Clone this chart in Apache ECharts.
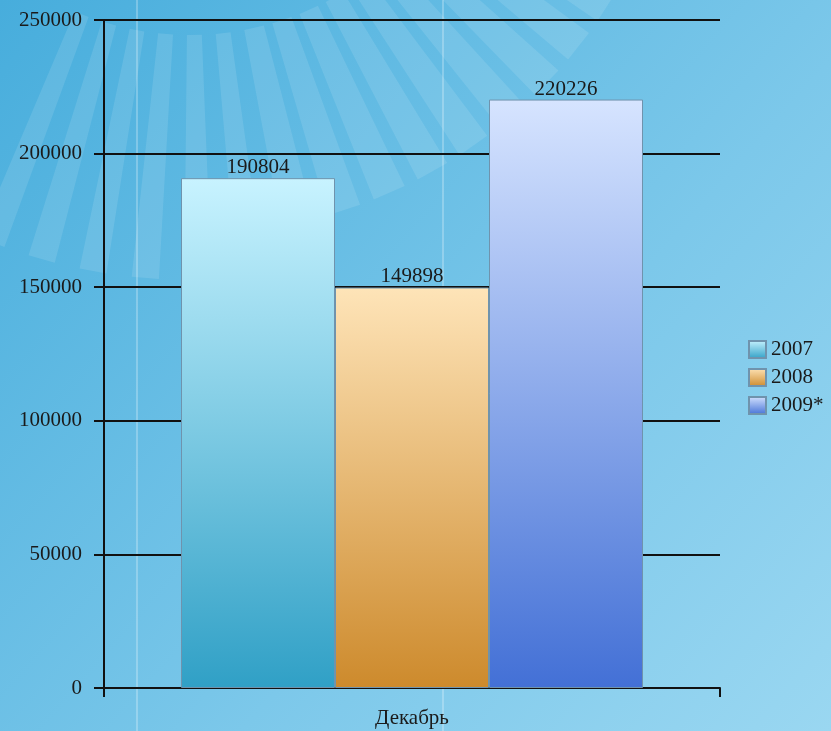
<!DOCTYPE html>
<html><head><meta charset="utf-8">
<script src="https://cdn.jsdelivr.net/npm/echarts@6/dist/echarts.min.js"></script>
<style>html,body{margin:0;padding:0;}#c{width:831px;height:731px;}</style>
</head><body><div id="c"></div>
<script>
const categories = ['Декабрь'];
const seriesNames = ['2007', '2008', '2009*'];
const values2007 = [190804];
const values2008 = [149898];
const values2009 = [220226];
const yTicks = [0, 50000, 100000, 150000, 200000, 250000];

const FONT = '"Liberation Serif", "DejaVu Serif", serif';
function grad(top, bottom) {
  return new echarts.graphic.LinearGradient(0, 0, 0, 1, [{offset: 0, color: top}, {offset: 1, color: bottom}]);
}
const colors = [grad('#c8f3ff', '#30a0c6'), grad('#fee4b8', '#cd8a2c'), grad('#d6e4ff', '#4370d6')];

// decorative sunburst rays in the background
const rays = [];
const cx = 190, cy = -260;
const deg = Math.PI / 180;
for (let a = 113; a >= 34; a -= 5.6) {
  const w = a > 80 ? 2.9 : 3.9;
  const r0 = 295, r1 = a > 80 ? 540 : 495;
  const a0 = a * deg, a1 = (a - w) * deg;
  rays.push({
    type: 'polygon', silent: true, z: -10,
    shape: {points: [
      [cx + r0 * Math.cos(a0), cy + r0 * Math.sin(a0)],
      [cx + r1 * Math.cos(a0), cy + r1 * Math.sin(a0)],
      [cx + r1 * Math.cos(a1), cy + r1 * Math.sin(a1)],
      [cx + r0 * Math.cos(a1), cy + r0 * Math.sin(a1)]
    ]},
    style: {fill: 'rgba(255,255,255,0.11)'}
  });
}

const chart = echarts.init(document.getElementById('c'));
const label = {show: true, position: 'top', distance: 0, color: '#1a1a1a', fontFamily: FONT, fontSize: 21};
const itemStyleBase = {borderColor: '#6f93ad', borderWidth: 1};
chart.setOption({
  animation: false,
  backgroundColor: new echarts.graphic.LinearGradient(0, 0, 1, 1, [
    {offset: 0, color: '#47addc'}, {offset: 0.6, color: '#7cc8ea'}, {offset: 1, color: '#9ad7f1'}
  ]),
  graphic: rays.concat([
    {type: 'rect', silent: true, z: -9, shape: {x: 136, y: 0, width: 2, height: 731}, style: {fill: 'rgba(255,255,255,0.25)'}},
    {type: 'rect', silent: true, z: -9, shape: {x: 442, y: 0, width: 2, height: 731}, style: {fill: 'rgba(255,255,255,0.25)'}}
  ]),
  grid: {left: 104, right: 111, top: 20, bottom: 43, containLabel: false},
  legend: {
    orient: 'vertical', left: 748, top: 339, padding: 0, itemWidth: 17, itemHeight: 17, itemGap: 7,
    icon: 'rect',
    textStyle: {fontFamily: FONT, fontSize: 21, color: '#1a1a1a'},
    data: seriesNames
  },
  xAxis: {
    type: 'category', data: categories,
    axisLine: {lineStyle: {color: '#111', width: 2}},
    axisTick: {show: true, length: 9, lineStyle: {color: '#111', width: 2}},
    axisLabel: {fontFamily: FONT, fontSize: 21, color: '#1a1a1a', margin: 20}
  },
  yAxis: {
    type: 'value', min: yTicks[0], max: yTicks[yTicks.length - 1], interval: yTicks[1] - yTicks[0],
    axisLine: {show: true, lineStyle: {color: '#111', width: 2}},
    axisTick: {show: true, length: 10, lineStyle: {color: '#111', width: 2}},
    splitLine: {show: true, lineStyle: {color: '#111', width: 2}},
    axisLabel: {fontFamily: FONT, fontSize: 21, color: '#1a1a1a', margin: 22, formatter: v => String(v)}
  },
  series: [
    {name: seriesNames[0], type: 'bar', data: values2007, barGap: '0%', barCategoryGap: '25%', itemStyle: Object.assign({color: colors[0]}, itemStyleBase), label: label},
    {name: seriesNames[1], type: 'bar', data: values2008, itemStyle: Object.assign({color: colors[1]}, itemStyleBase), label: label},
    {name: seriesNames[2], type: 'bar', data: values2009, itemStyle: Object.assign({color: colors[2]}, itemStyleBase), label: label}
  ]
});
</script></body></html>
